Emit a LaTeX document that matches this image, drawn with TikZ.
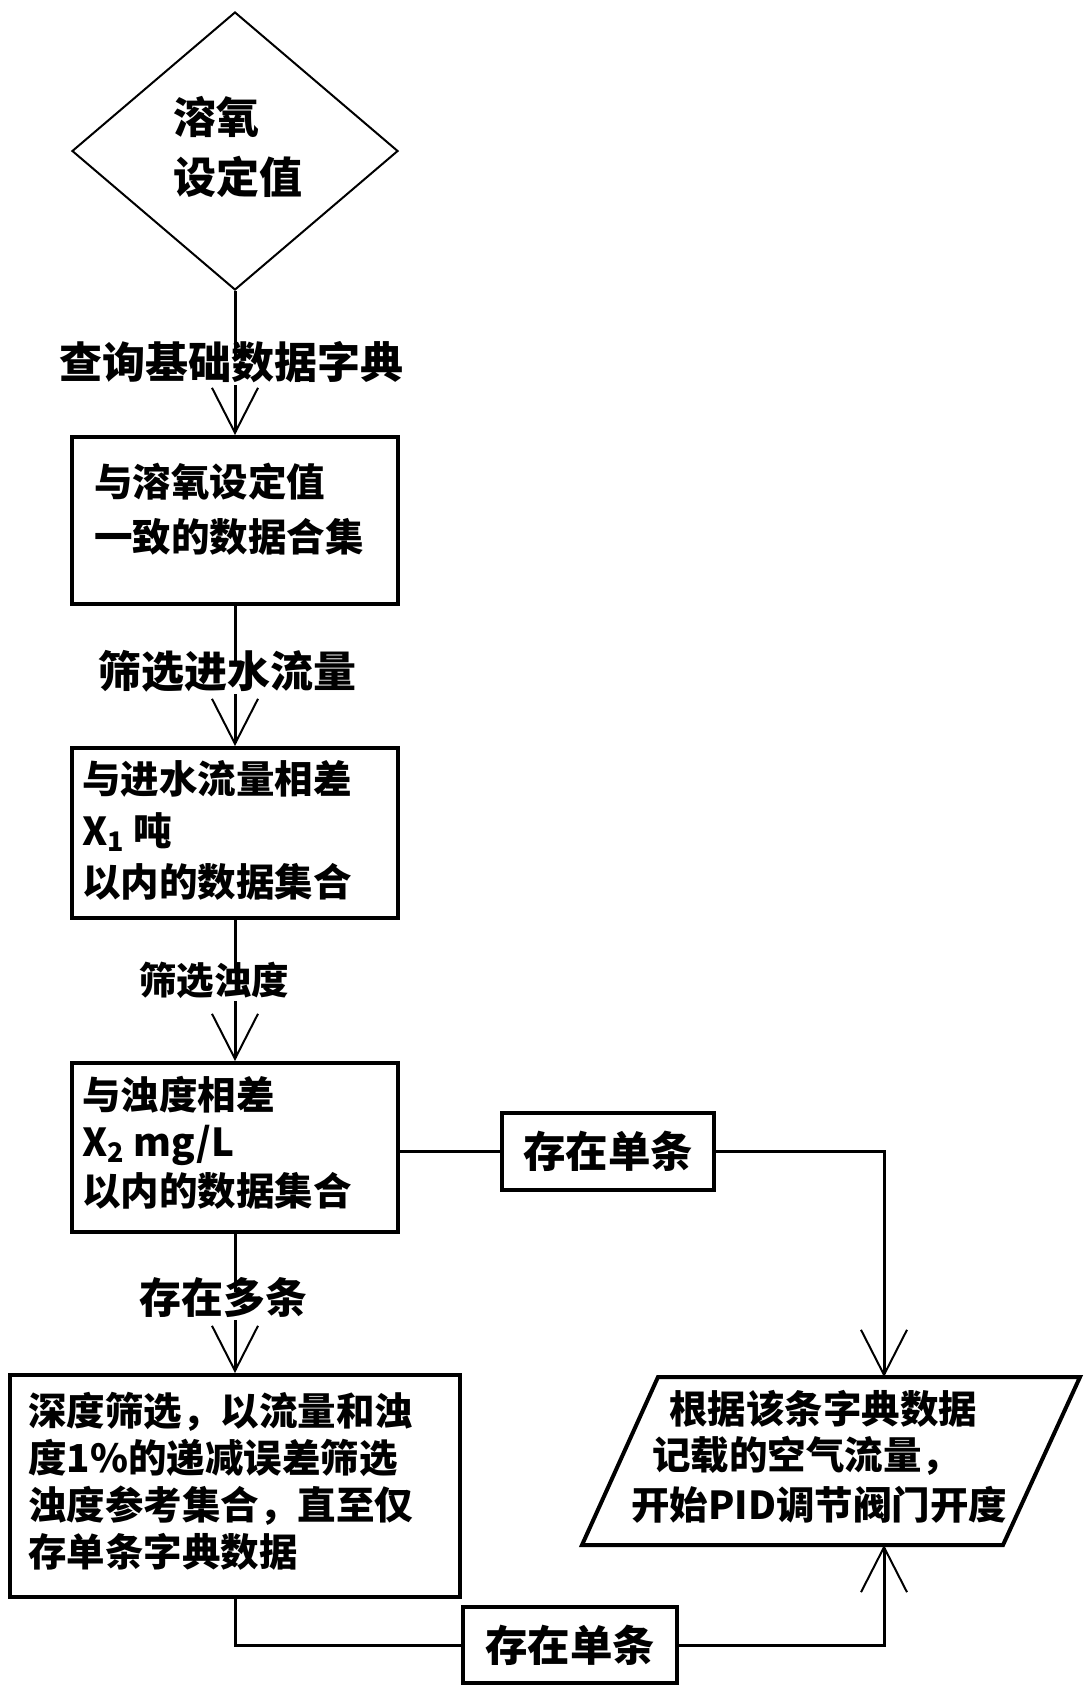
\documentclass[tikz,border=0pt]{standalone}
\usepackage{fontspec}
\IfFontExistsTF{Noto Sans CJK SC Black}
  {\setmainfont{Noto Sans CJK SC}[BoldFont={Noto Sans CJK SC Black}]}
  {\setmainfont{Noto Sans CJK SC}[BoldFont={Noto Sans CJK SC Bold}, BoldFeatures={FakeBold=1.5}]}
\usetikzlibrary{shapes.geometric,arrows.meta}
\begin{document}
\begin{tikzpicture}[x=0.5pt,y=-0.5pt,
  box/.style={draw, line width=2pt, rectangle, inner sep=0pt},
  conn/.style={line width=1.5pt},
  arr/.style={conn, -{Straight Barb[length=22.5pt,width=23pt,line width=1pt]}},
  txt/.style={anchor=west, inner sep=0pt, font=\bfseries\fontsize{19.25pt}{19.25pt}\selectfont, text height=0.88em, text depth=0.12em},
  big/.style={txt, font=\bfseries\fontsize{21.5pt}{21.5pt}\selectfont},
  lab/.style={fill=white, inner sep=2pt, font=\bfseries\fontsize{21.5pt}{21.5pt}\selectfont, text height=0.88em, text depth=0.12em}]
\useasboundingbox[fill=white] (0,0) rectangle (1087,1692);

% diamond
\node[draw, diamond, line width=1pt, inner sep=0pt, minimum width=163pt, minimum height=139pt] (d) at (235,151) {};
\node[big] (d1) at (173,126) {溶氧};
\node[big] (d2) at (173,186) {设定值};

% boxes
\node[box, minimum width=163pt, minimum height=83.5pt] (b1) at (235,520.5) {};
\node[txt] (b1a) at (94,489) {与溶氧设定值};
\node[txt] (b1b) at (94,544) {一致的数据合集};

\node[box, minimum width=163pt, minimum height=85pt] (b2) at (235,833) {};
\node[txt] (b2a) at (82,786) {与进水流量相差};
\node[txt] (b2b) at (82,838) {X\textsubscript{1} 吨};
\node[txt] (b2c) at (82,889) {以内的数据集合};

\node[box, minimum width=163pt, minimum height=84.5pt] (b3) at (235,1147.5) {};
\node[txt] (b3a) at (82,1102) {与浊度相差};
\node[txt] (b3b) at (82,1149) {X\textsubscript{2} mg/L};
\node[txt] (b3c) at (82,1198) {以内的数据集合};

\node[box, minimum width=225pt, minimum height=111pt] (b4) at (235,1486) {};
\node[txt] (b4a) at (28,1418) {深度筛选，以流量和浊};
\node[txt] (b4b) at (28,1465) {度1\%的递减误差筛选};
\node[txt] (b4c) at (28,1512) {浊度参考集合，直至仅};
\node[txt] (b4d) at (28,1559) {存单条字典数据};

\node[box, minimum width=106pt, minimum height=38.5pt, font=\bfseries\fontsize{21.25pt}{21.25pt}\selectfont] (s1) at (608,1151.5) {存在单条};
\node[box, minimum width=107pt, minimum height=38pt, font=\bfseries\fontsize{21.25pt}{21.25pt}\selectfont] (s2) at (570,1645) {存在单条};

% parallelogram
\coordinate (ptl) at (658,1377);
\coordinate (ptr) at (1080,1377);
\coordinate (pbr) at (1003,1545);
\coordinate (pbl) at (582,1545);
\draw[line width=2pt, line join=miter] (ptl) -- (ptr) -- (pbr) -- (pbl) -- cycle;
\coordinate (ptop) at (884,1377);
\coordinate (pbot) at (884,1545);
\node[txt] (p1) at (669,1416) {根据该条字典数据};
\node[txt] (p2) at (652,1462) {记载的空气流量，};
\node[txt] (p3) at (631,1512) {开始PID调节阀门开度};

% connectors
\draw[arr] (d.south) -- (b1.north);
\draw[arr] (b1.south) -- (b2.north);
\draw[arr] (b2.south) -- (b3.north);
\draw[arr] (b3.south) -- (b4.north);
\draw[conn] (b3.east |- s1.west) -- (s1.west);
\draw[arr] (s1.east) -| (ptop);
\draw[conn] (b4.south) |- (s2.west);
\draw[arr] (s2.east) -| (pbot);

% labels on connectors
\node[lab] (l1) at (231,371) {查询基础数据字典};
\node[lab] (l2) at (227.5,680) {筛选进水流量};
\node[lab, font=\bfseries\fontsize{18.75pt}{18.75pt}\selectfont] (l3) at (214,987) {筛选浊度};
\node[lab, font=\bfseries\fontsize{21pt}{21pt}\selectfont] (l4) at (223,1306) {存在多条};
\end{tikzpicture}
\end{document}
